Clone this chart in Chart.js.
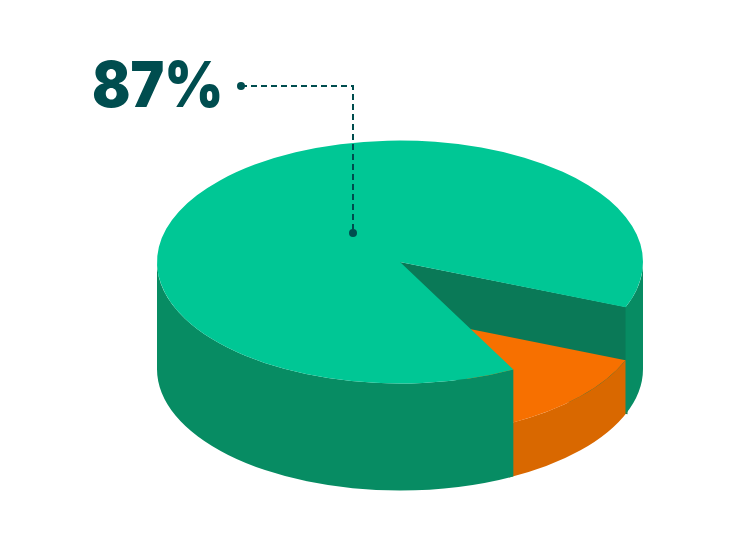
<!DOCTYPE html>
<html><head><meta charset="utf-8">
<style>html,body{margin:0;padding:0;background:#fff}#w{width:750px;height:540px}</style>
<script src="https://cdn.jsdelivr.net/npm/chart.js@4"></script>
</head><body><div id="w"><canvas id="c" width="750" height="540"></canvas></div>
<script>
const categories = ["Main share", "Remainder"];
const sliceShares = [88.8, 11.2];
const sliceColors = ["#00c795", "#f77000"];
const wallColors = ["#078c63", "#d96800"];
const cutFaceColor = "#0a7957";
const calloutText = "87%";
const calloutColor = "#004d4f";

const TILT = 0.5, DEPTH = 107, DROP = 53;

function tilt(ctx, a, dy) {
  ctx.translate(a.x, a.y + dy);
  ctx.scale(1, TILT);
  ctx.translate(-a.x, -a.y);
}
// Curved outer wall between two angles, from level y0 to level y1 below the top centre.
function wall(ctx, a, from, to, y0, y1, color) {
  const r = a.outerRadius;
  ctx.beginPath();
  ctx.ellipse(a.x, a.y + y0, r, r * TILT, 0, from, to, false);
  ctx.ellipse(a.x, a.y + y1, r, r * TILT, 0, to, from, true);
  ctx.closePath();
  ctx.fillStyle = color;
  ctx.fill();
}
const extrude = {
  id: "extrude",
  beforeDatasetsDraw(chart) {
    const ctx = chart.ctx;
    const [main, rest] = chart.getDatasetMeta(0).data;
    const r = main.outerRadius;
    const px = (ang, dy) => [main.x + r * Math.cos(ang), main.y + dy + r * TILT * Math.sin(ang)];
    const TWO = Math.PI * 2;
    const s = ((rest.startAngle % TWO) + TWO) % TWO;
    const e = ((rest.endAngle % TWO) + TWO) % TWO;
    const lap = 0.02; // slight overlap under the green wall, so no pale seam shows

    // Cut face exposed where the small slice sits lower
    const [fx, fy] = px(s, 0);
    ctx.beginPath();
    ctx.moveTo(main.x, main.y);
    ctx.lineTo(fx + 2, fy);
    ctx.lineTo(fx + 2, fy + DEPTH);
    ctx.lineTo(main.x, main.y + DEPTH);
    ctx.closePath();
    ctx.fillStyle = cutFaceColor;
    ctx.fill();

    // Small slice: wall, then its lowered top
    wall(ctx, rest, s - lap, e + lap, DROP, DEPTH, wallColors[1]);
    ctx.save();
    tilt(ctx, rest, DROP);
    rest.draw(ctx);
    ctx.restore();

    // Outer wall of the large slice: right part and front-left part, in front of the small slice
    wall(ctx, main, 0, s, 0, DEPTH, wallColors[0]);
    wall(ctx, main, e, Math.PI, 0, DEPTH, wallColors[0]);

    // Top of the large slice over everything
    ctx.save();
    tilt(ctx, main, 0);
    main.draw(ctx);
    ctx.restore();

    // Callout
    ctx.save();
    ctx.strokeStyle = calloutColor;
    ctx.fillStyle = calloutColor;
    ctx.lineWidth = 2;
    ctx.setLineDash([6, 4]);
    ctx.beginPath();
    ctx.moveTo(241, 86);
    ctx.lineTo(353, 86);
    ctx.lineTo(353, 233);
    ctx.stroke();
    ctx.setLineDash([]);
    for (const [x, y] of [[241, 86], [353, 233]]) {
      ctx.beginPath();
      ctx.arc(x, y, 4, 0, TWO);
      ctx.fill();
    }
    ctx.font = "900 63px Inter";
    ctx.textBaseline = "alphabetic";
    ctx.textAlign = "left";
    ctx.translate(92, 107);
    ctx.scale(0.9, 1);
    ctx.fillText(calloutText, 0, 0);
    ctx.restore();
    return false;
  }
};
new Chart(document.getElementById("c"), {
  type: "pie",
  data: { labels: categories, datasets: [{ data: sliceShares, backgroundColor: sliceColors, borderWidth: 0, radius: 243 }] },
  options: {
    responsive: false,
    animation: false,
    rotation: 152.2,
    layout: { padding: { left: 50, bottom: 16 } },
    plugins: { legend: { display: false }, tooltip: { enabled: false } }
  },
  plugins: [extrude]
});
</script></body></html>
